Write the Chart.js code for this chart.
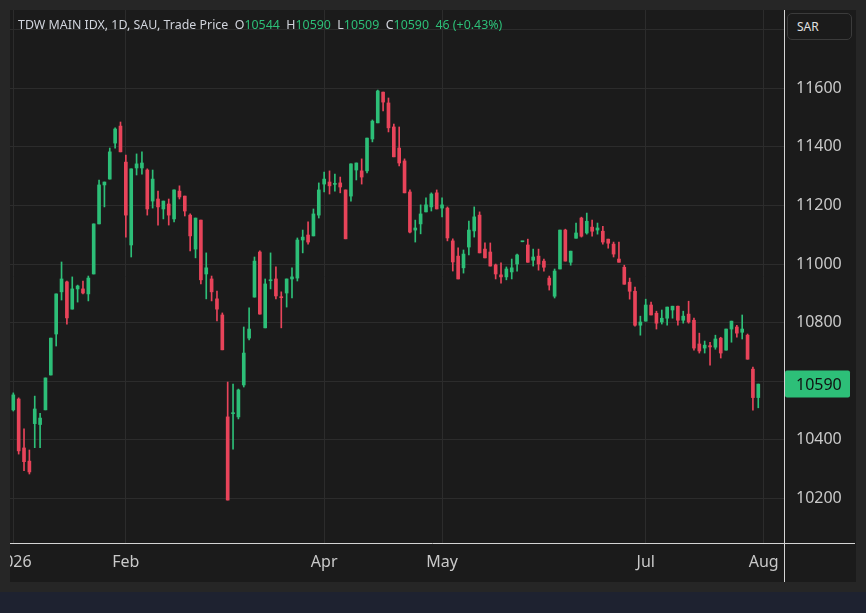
<!DOCTYPE html>
<html>
<head>
<meta charset="utf-8">
<script src="https://cdn.jsdelivr.net/npm/chart.js@4.4.1/dist/chart.umd.min.js"></script>
<style>
  html, body { margin: 0; padding: 0; }
  body { width: 866px; height: 613px; background: #262626; position: relative; overflow: hidden; font-family: "Noto Sans", sans-serif; }
  #panel { position: absolute; left: 10px; top: 10px; width: 846px; height: 572px; background: #1b1b1b; }
  #strip { position: absolute; left: 0; top: 592px; width: 866px; height: 21px; background: #1e2230; }
  #legend { position: absolute; left: 18px; top: 16px; font-size: 12.4px; line-height: 18px; color: #d1d4dc; white-space: pre; }
  #legend .v { color: #2dbf78; }
  #sar { position: absolute; left: 787px; top: 13px; width: 65px; height: 27px; box-sizing: border-box; border: 1px solid #3b3b3b; border-radius: 5px; background: #1b1b1b; color: #e0e0e0; font-size: 12px; line-height: 25px; padding-left: 9px; }
</style>
</head>
<body>
<div id="panel"><canvas id="chart"></canvas></div>
<div id="strip"></div>
<div id="legend">TDW MAIN IDX, 1D, SAU, Trade Price  O<span class="v">10544</span>  H<span class="v">10590</span>  L<span class="v">10509</span>  C<span class="v">10590</span>  <span class="v">46 (+0.43%)</span></div>
<div id="sar">SAR</div>
<script>
// Daily candles, bar index 0 = first trading day of 2026
const open = [
  10502, 10539, 10372, 10327, 10455, 10452, 10502, 10621, 10761, 10905,
  10939, 10846, 10915, 10915, 10898, 10966, 11137, 11270, 11290, 11413,
  11471, 11348, 11065, 11328, 11328, 11321, 11215, 11222, 11188, 11205,
  11154, 11249, 11232, 11167, 11051, 11150, 10966, 10949, 10881, 10826,
  10478, 10489, 10478, 10587, 10747, 10887, 11041, 10782, 10943, 10949,
  10887, 10901, 10949, 10952, 11082, 11099, 11096, 11167, 11273, 11280,
  11272, 11277, 11253, 11232, 11321, 11318, 11318, 11427, 11482, 11587,
  11550, 11468, 11396, 11352, 11246, 11116, 11137, 11178, 11195, 11243,
  11191, 11191, 11079, 11027, 10987, 11058, 11113, 11167, 11051, 11041,
  10997, 10963, 10956, 10973, 11000, 11076, 11065, 11013, 11027, 11010,
  10952, 10890, 10983, 11116, 11006, 11088, 11157, 11106, 11126, 11116,
  11112, 11085, 11068, 11017, 10989, 10938, 10907, 10791, 10805, 10860,
  10832, 10802, 10815, 10843, 10856, 10808, 10829, 10808, 10727, 10713,
  10721, 10716, 10747, 10706, 10778, 10785, 10767, 10757, 10641, 10544
];
const high = [
  10560, 10543, 10437, 10365, 10549, 10490, 10611, 10747, 10898, 11007,
  10942, 10956, 10928, 10942, 10959, 11137, 11287, 11280, 11396, 11465,
  11485, 11372, 11325, 11376, 11383, 11325, 11321, 11249, 11215, 11222,
  11253, 11267, 11232, 11171, 11157, 11150, 11038, 10959, 10908, 10833,
  10597, 10590, 10573, 10785, 10850, 11024, 11045, 10949, 11038, 10990,
  10905, 10949, 10987, 11089, 11116, 11144, 11188, 11277, 11314, 11318,
  11307, 11297, 11253, 11342, 11345, 11359, 11430, 11492, 11594, 11587,
  11567, 11478, 11468, 11359, 11253, 11150, 11202, 11226, 11243, 11253,
  11226, 11195, 11086, 11055, 11048, 11147, 11195, 11178, 11072, 11072,
  11000, 11004, 10990, 11017, 11034, 11078, 11085, 11051, 11051, 11017,
  10959, 10983, 11116, 11119, 11044, 11140, 11160, 11174, 11150, 11140,
  11129, 11085, 11075, 11075, 10996, 10952, 10921, 10822, 10880, 10870,
  10839, 10843, 10853, 10856, 10856, 10839, 10873, 10815, 10764, 10737,
  10733, 10757, 10750, 10778, 10805, 10791, 10826, 10761, 10648, 10590
];
const low = [
  10498, 10351, 10294, 10283, 10373, 10373, 10502, 10621, 10720, 10877,
  10795, 10846, 10870, 10898, 10874, 10966, 11137, 11195, 11290, 11396,
  11383, 11092, 11024, 11304, 11307, 11167, 11191, 11133, 11154, 11133,
  11144, 11222, 11164, 11045, 11021, 10932, 10881, 10874, 10806, 10707,
  10194, 10368, 10471, 10580, 10741, 10887, 10829, 10782, 10915, 10881,
  10782, 10853, 10884, 10942, 11038, 11068, 11096, 11157, 11246, 11239,
  11249, 11243, 11086, 11215, 11287, 11273, 11311, 11417, 11482, 11523,
  11451, 11366, 11335, 11243, 11106, 11075, 11103, 11178, 11181, 11188,
  11161, 11079, 10976, 10949, 10969, 11031, 11092, 11038, 11021, 10993,
  10949, 10935, 10946, 10949, 10976, 11076, 11006, 10993, 10979, 10976,
  10911, 10884, 10983, 11010, 10996, 11088, 11092, 11102, 11095, 11102,
  11068, 11054, 11024, 11006, 10931, 10880, 10788, 10757, 10805, 10826,
  10778, 10795, 10791, 10815, 10791, 10798, 10798, 10706, 10696, 10696,
  10655, 10709, 10679, 10706, 10733, 10750, 10744, 10675, 10501, 10509
];
const close = [
  10553, 10362, 10325, 10290, 10505, 10474, 10611, 10747, 10898, 10949,
  10816, 10915, 10925, 10901, 10952, 11137, 11270, 11280, 11383, 11461,
  11383, 11167, 11325, 11342, 11345, 11188, 11290, 11195, 11215, 11167,
  11253, 11229, 11181, 11096, 11157, 10946, 10987, 10905, 10846, 10707,
  10194, 10491, 10570, 10696, 10778, 11010, 10829, 10932, 10946, 10891,
  10885, 10949, 10956, 11082, 11092, 11075, 11171, 11253, 11290, 11267,
  11274, 11263, 11086, 11342, 11345, 11297, 11430, 11488, 11591, 11553,
  11465, 11366, 11345, 11243, 11109, 11123, 11171, 11202, 11239, 11188,
  11202, 11089, 11007, 10949, 11034, 11116, 11161, 11038, 11021, 10993,
  10966, 10956, 10983, 10987, 11031, 11078, 11006, 11024, 11000, 10989,
  10928, 10976, 11116, 11010, 11044, 11106, 11095, 11146, 11112, 11123,
  11075, 11071, 11034, 11006, 10931, 10907, 10791, 10802, 10860, 10826,
  10798, 10815, 10853, 10856, 10808, 10822, 10802, 10713, 10703, 10723,
  10717, 10744, 10696, 10778, 10805, 10764, 10778, 10675, 10544, 10590
];

// x axis: bar index of each month gridline and its label
const monthTicks = [0, 21, 58, 80, 118, 140];
const monthLabels = ['2026', 'Feb', 'Apr', 'May', 'Jul', 'Aug'];
// price axis ticks
const priceTicks = [10200, 10400, 10600, 10800, 11000, 11200, 11400, 11600, 11800];
const hiddenPriceLabels = [10600, 11800];

const upColor = '#2dbf78';
const downColor = '#e8445a';
const candleColors = close.map((c, i) => c >= open[i] ? upColor : downColor);
const lastClose = close[close.length - 1];

// month labels, axis separators and last price tag
const overlayPlugin = {
    id: 'overlay',
    afterDraw(chart) {
        const { ctx, chartArea, scales } = chart;
        ctx.save();
        ctx.font = '16px "Noto Sans"';
        ctx.fillStyle = '#c9c9c9';
        ctx.textAlign = 'center';
        ctx.textBaseline = 'middle';
        monthTicks.forEach((t, k) => {
            ctx.fillText(monthLabels[k], scales.x.getPixelForValue(t), chartArea.bottom + 19);
        });

        ctx.strokeStyle = '#d4d4d4';
        ctx.lineWidth = 1;
        ctx.beginPath();
        const yb = Math.round(chartArea.bottom) + 0.5;
        const xr = Math.round(chartArea.right) + 0.5;
        ctx.moveTo(0, yb);
        ctx.lineTo(chart.width - 1, yb);
        ctx.moveTo(xr, 0);
        ctx.lineTo(xr, chart.height);
        ctx.stroke();

        const py = scales.y.getPixelForValue(lastClose);
        ctx.fillStyle = upColor;
        ctx.beginPath();
        ctx.roundRect(chartArea.right + 1, py - 13.5, 65, 27, 2);
        ctx.fill();
        ctx.fillStyle = '#111111';
        ctx.textAlign = 'left';
        ctx.fillText(String(lastClose), chartArea.right + 12, py + 1);
        ctx.restore();
    }
};

const noPadding = s => {
    s.paddingTop = 0;
    s.paddingBottom = 0;
    s.paddingLeft = 0;
    s.paddingRight = 0;
};

new Chart(document.getElementById('chart'), {
    type: 'bar',
    data: {
        datasets: [
            {
                label: 'wick',
                data: close.map((c, i) => ({ x: i, y: [low[i], high[i]] })),
                backgroundColor: candleColors,
                barThickness: 1,
                grouped: false,
                borderWidth: 0
            },
            {
                label: 'body',
                data: close.map((c, i) => ({ x: i, y: [open[i], c] })),
                backgroundColor: candleColors,
                barThickness: 3,
                minBarLength: 1,
                grouped: false,
                borderWidth: 0
            }
        ]
    },
    options: {
        responsive: true,
        maintainAspectRatio: false,
        animation: false,
        events: [],
        layout: { padding: 0 },
        plugins: {
            legend: { display: false },
            tooltip: { enabled: false }
        },
        scales: {
            x: {
                type: 'linear',
                offset: false,
                min: -0.616,
                max: 143.8,
                afterBuildTicks: s => { s.ticks = monthTicks.map(v => ({ value: v })); },
                afterFit: s => { s.height = 39; noPadding(s); },
                ticks: { display: false },
                grid: { color: '#2c2c2c', drawTicks: false, offset: false },
                border: { display: false }
            },
            y: {
                position: 'right',
                min: 10047.4,
                max: 11867.4,
                afterBuildTicks: s => { s.ticks = priceTicks.map(v => ({ value: v })); },
                afterFit: s => { s.width = 72; noPadding(s); },
                ticks: {
                    padding: 12,
                    color: '#c9c9c9',
                    font: { family: 'Noto Sans', size: 16 },
                    callback: v => hiddenPriceLabels.includes(v) ? '' : String(v)
                },
                grid: { color: '#2c2c2c', drawTicks: false },
                border: { display: false }
            }
        }
    },
    plugins: [overlayPlugin]
});
</script>
</body>
</html>
